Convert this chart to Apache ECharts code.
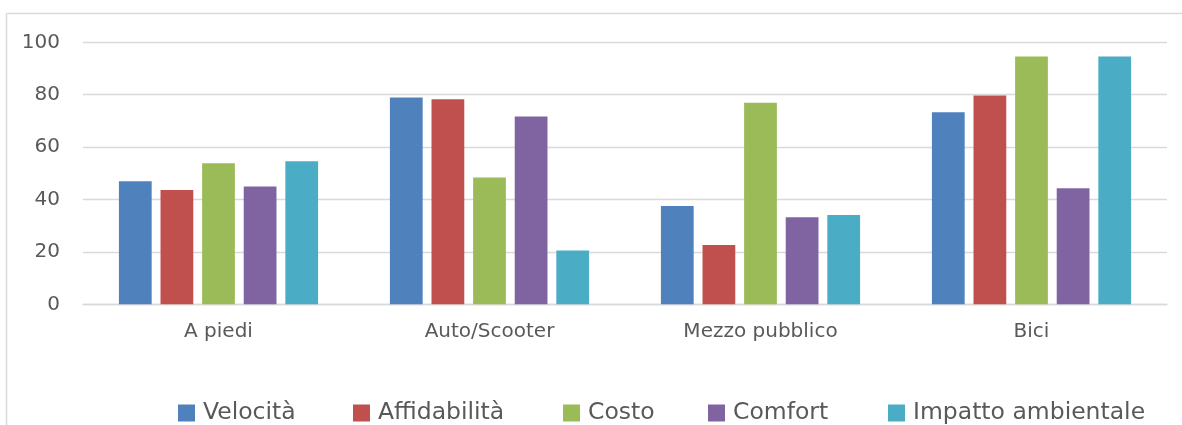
<!DOCTYPE html>
<html>
<head>
<meta charset="utf-8">
<script src="https://cdn.jsdelivr.net/npm/echarts@6/dist/echarts.min.js"></script>
<style>
html,body{margin:0;padding:0;background:#fff;}
#chart{width:1182px;height:425px;}
</style>
</head>
<body>
<div id="chart"></div>
<script>
var categories = ['A piedi', 'Auto/Scooter', 'Mezzo pubblico', 'Bici'];
var seriesNames = ['Velocità', 'Affidabilità', 'Costo', 'Comfort', 'Impatto ambientale'];
var velocita = [47.0, 78.9, 37.5, 73.3];
var affidabilita = [43.6, 78.3, 22.6, 79.7];
var costo = [53.8, 48.4, 76.9, 94.6];
var comfort = [45.0, 71.7, 33.2, 44.3];
var impatto = [54.6, 20.5, 34.1, 94.6];
var yTicks = [0, 20, 40, 60, 80, 100];

var colors = ['#4F81BD', '#C0504D', '#9BBB59', '#8064A2', '#4BACC6'];
var values = [velocita, affidabilita, costo, comfort, impatto];
var legendLefts = [178, 353, 563, 708, 888];
var font = 'DejaVu Sans';
var textColor = '#595959';

var chart = echarts.init(document.getElementById('chart'), null, {renderer: 'canvas'});

var series = seriesNames.map(function (name, i) {
  return {
    name: name,
    type: 'bar',
    data: values[i],
    barGap: '27%',
    barCategoryGap: '26.5%',
    itemStyle: {color: colors[i]},
    emphasis: {disabled: true}
  };
});

var legends = seriesNames.map(function (name, i) {
  return {
    data: [name],
    left: legendLefts[i],
    top: 401,
    itemWidth: 17,
    itemHeight: 17,
    itemGap: 0,
    padding: 0,
    icon: 'rect',
    selectedMode: false,
    textStyle: {fontFamily: font, fontSize: 23.5, color: textColor, padding: [0, 0, 0, 3]}
  };
});

chart.setOption({
  animation: false,
  color: colors,
  graphic: [
    {type: 'line', shape: {x1: 6.5, y1: 13.5, x2: 6.5, y2: 425}, style: {stroke: '#d9d9d9', lineWidth: 1.5}},
    {type: 'line', shape: {x1: 6.5, y1: 13.5, x2: 1182, y2: 13.5}, style: {stroke: '#d9d9d9', lineWidth: 1.5}}
  ],
  legend: legends,
  grid: {left: 83, right: 15, top: 42.3, bottom: 120.7, containLabel: false},
  xAxis: {
    type: 'category',
    data: categories,
    axisTick: {show: false},
    axisLine: {show: true, lineStyle: {color: '#d9d9d9', width: 1.3}},
    axisLabel: {fontFamily: font, fontSize: 20, color: textColor, margin: 17}
  },
  yAxis: {
    type: 'value',
    min: yTicks[0],
    max: yTicks[yTicks.length - 1],
    interval: yTicks[1] - yTicks[0],
    axisLine: {show: false},
    axisTick: {show: false},
    splitLine: {lineStyle: {color: '#d9d9d9', width: 1.3}},
    axisLabel: {fontFamily: font, fontSize: 20, color: textColor, margin: 23}
  },
  series: series
});
</script>
</body>
</html>
